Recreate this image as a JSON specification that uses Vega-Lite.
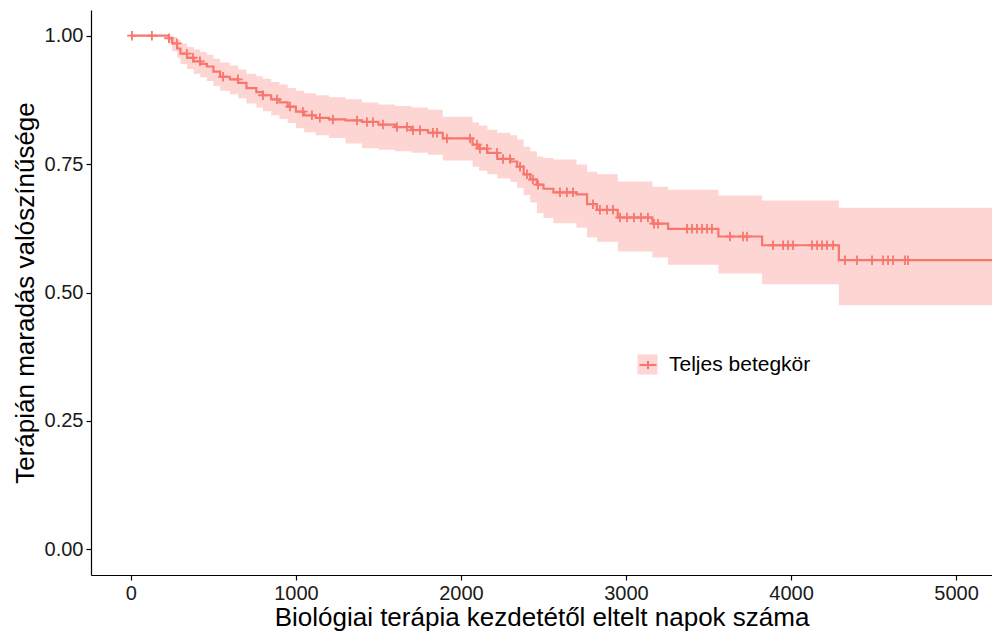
{
  "$schema": "https://vega.github.io/schema/vega-lite/v6.json",
  "width": 901,
  "height": 565,
  "autosize": {"type": "none"},
  "padding": {"left": 91, "top": 10, "right": 0, "bottom": 57},
  "background": "white",
  "config": {
    "view": {"stroke": null},
    "font": "Liberation Sans",
    "axis": {
      "domainColor": "black",
      "domainWidth": 1.2,
      "tickColor": "black",
      "tickWidth": 1.2,
      "tickSize": 5,
      "labelColor": "#1a1a1a",
      "labelFontSize": 20,
      "labelPadding": 3,
      "titleColor": "black",
      "titleFontSize": 26,
      "titleFontWeight": "normal",
      "grid": false
    }
  },
  "datasets": {
    "km": [
      {"t": 0, "s": 1.0, "lo": 1.0, "hi": 1.0, "band": "Teljes betegkör", "strata": "Teljes betegkör"},
      {"t": 230, "s": 0.995, "lo": 0.985, "hi": 1.0, "band": "Teljes betegkör", "strata": "Teljes betegkör"},
      {"t": 250, "s": 0.985, "lo": 0.970, "hi": 0.998, "band": "Teljes betegkör", "strata": "Teljes betegkör"},
      {"t": 280, "s": 0.975, "lo": 0.957, "hi": 0.992, "band": "Teljes betegkör", "strata": "Teljes betegkör"},
      {"t": 300, "s": 0.965, "lo": 0.945, "hi": 0.985, "band": "Teljes betegkör", "strata": "Teljes betegkör"},
      {"t": 340, "s": 0.957, "lo": 0.935, "hi": 0.978, "band": "Teljes betegkör", "strata": "Teljes betegkör"},
      {"t": 380, "s": 0.950, "lo": 0.926, "hi": 0.973, "band": "Teljes betegkör", "strata": "Teljes betegkör"},
      {"t": 420, "s": 0.945, "lo": 0.919, "hi": 0.968, "band": "Teljes betegkör", "strata": "Teljes betegkör"},
      {"t": 460, "s": 0.940, "lo": 0.912, "hi": 0.963, "band": "Teljes betegkör", "strata": "Teljes betegkör"},
      {"t": 500, "s": 0.930, "lo": 0.902, "hi": 0.955, "band": "Teljes betegkör", "strata": "Teljes betegkör"},
      {"t": 540, "s": 0.920, "lo": 0.893, "hi": 0.948, "band": "Teljes betegkör", "strata": "Teljes betegkör"},
      {"t": 600, "s": 0.915, "lo": 0.886, "hi": 0.942, "band": "Teljes betegkör", "strata": "Teljes betegkör"},
      {"t": 650, "s": 0.908, "lo": 0.878, "hi": 0.934, "band": "Teljes betegkör", "strata": "Teljes betegkör"},
      {"t": 700, "s": 0.898, "lo": 0.868, "hi": 0.926, "band": "Teljes betegkör", "strata": "Teljes betegkör"},
      {"t": 760, "s": 0.890, "lo": 0.860, "hi": 0.921, "band": "Teljes betegkör", "strata": "Teljes betegkör"},
      {"t": 800, "s": 0.884, "lo": 0.853, "hi": 0.916, "band": "Teljes betegkör", "strata": "Teljes betegkör"},
      {"t": 850, "s": 0.876, "lo": 0.845, "hi": 0.910, "band": "Teljes betegkör", "strata": "Teljes betegkör"},
      {"t": 900, "s": 0.870, "lo": 0.838, "hi": 0.905, "band": "Teljes betegkör", "strata": "Teljes betegkör"},
      {"t": 950, "s": 0.862, "lo": 0.830, "hi": 0.898, "band": "Teljes betegkör", "strata": "Teljes betegkör"},
      {"t": 1000, "s": 0.852, "lo": 0.820, "hi": 0.893, "band": "Teljes betegkör", "strata": "Teljes betegkör"},
      {"t": 1050, "s": 0.845, "lo": 0.812, "hi": 0.888, "band": "Teljes betegkör", "strata": "Teljes betegkör"},
      {"t": 1120, "s": 0.840, "lo": 0.806, "hi": 0.884, "band": "Teljes betegkör", "strata": "Teljes betegkör"},
      {"t": 1200, "s": 0.837, "lo": 0.801, "hi": 0.880, "band": "Teljes betegkör", "strata": "Teljes betegkör"},
      {"t": 1300, "s": 0.835, "lo": 0.790, "hi": 0.876, "band": "Teljes betegkör", "strata": "Teljes betegkör"},
      {"t": 1400, "s": 0.832, "lo": 0.781, "hi": 0.870, "band": "Teljes betegkör", "strata": "Teljes betegkör"},
      {"t": 1500, "s": 0.827, "lo": 0.778, "hi": 0.866, "band": "Teljes betegkör", "strata": "Teljes betegkör"},
      {"t": 1600, "s": 0.822, "lo": 0.775, "hi": 0.863, "band": "Teljes betegkör", "strata": "Teljes betegkör"},
      {"t": 1700, "s": 0.816, "lo": 0.772, "hi": 0.860, "band": "Teljes betegkör", "strata": "Teljes betegkör"},
      {"t": 1800, "s": 0.811, "lo": 0.768, "hi": 0.856, "band": "Teljes betegkör", "strata": "Teljes betegkör"},
      {"t": 1890, "s": 0.800, "lo": 0.757, "hi": 0.842, "band": "Teljes betegkör", "strata": "Teljes betegkör"},
      {"t": 2070, "s": 0.788, "lo": 0.745, "hi": 0.831, "band": "Teljes betegkör", "strata": "Teljes betegkör"},
      {"t": 2110, "s": 0.780, "lo": 0.737, "hi": 0.825, "band": "Teljes betegkör", "strata": "Teljes betegkör"},
      {"t": 2160, "s": 0.772, "lo": 0.730, "hi": 0.817, "band": "Teljes betegkör", "strata": "Teljes betegkör"},
      {"t": 2220, "s": 0.760, "lo": 0.722, "hi": 0.811, "band": "Teljes betegkör", "strata": "Teljes betegkör"},
      {"t": 2300, "s": 0.755, "lo": 0.715, "hi": 0.806, "band": "Teljes betegkör", "strata": "Teljes betegkör"},
      {"t": 2340, "s": 0.745, "lo": 0.704, "hi": 0.798, "band": "Teljes betegkör", "strata": "Teljes betegkör"},
      {"t": 2380, "s": 0.730, "lo": 0.690, "hi": 0.784, "band": "Teljes betegkör", "strata": "Teljes betegkör"},
      {"t": 2420, "s": 0.720, "lo": 0.675, "hi": 0.775, "band": "Teljes betegkör", "strata": "Teljes betegkör"},
      {"t": 2460, "s": 0.710, "lo": 0.655, "hi": 0.765, "band": "Teljes betegkör", "strata": "Teljes betegkör"},
      {"t": 2500, "s": 0.702, "lo": 0.645, "hi": 0.762, "band": "Teljes betegkör", "strata": "Teljes betegkör"},
      {"t": 2560, "s": 0.695, "lo": 0.635, "hi": 0.759, "band": "Teljes betegkör", "strata": "Teljes betegkör"},
      {"t": 2700, "s": 0.691, "lo": 0.626, "hi": 0.749, "band": "Teljes betegkör", "strata": "Teljes betegkör"},
      {"t": 2764, "s": 0.672, "lo": 0.607, "hi": 0.735, "band": "Teljes betegkör", "strata": "Teljes betegkör"},
      {"t": 2824, "s": 0.661, "lo": 0.599, "hi": 0.730, "band": "Teljes betegkör", "strata": "Teljes betegkör"},
      {"t": 2950, "s": 0.646, "lo": 0.580, "hi": 0.716, "band": "Teljes betegkör", "strata": "Teljes betegkör"},
      {"t": 3160, "s": 0.634, "lo": 0.568, "hi": 0.706, "band": "Teljes betegkör", "strata": "Teljes betegkör"},
      {"t": 3255, "s": 0.624, "lo": 0.554, "hi": 0.700, "band": "Teljes betegkör", "strata": "Teljes betegkör"},
      {"t": 3560, "s": 0.609, "lo": 0.537, "hi": 0.689, "band": "Teljes betegkör", "strata": "Teljes betegkör"},
      {"t": 3825, "s": 0.592, "lo": 0.516, "hi": 0.679, "band": "Teljes betegkör", "strata": "Teljes betegkör"},
      {"t": 4290, "s": 0.563, "lo": 0.475, "hi": 0.665, "band": "Teljes betegkör", "strata": "Teljes betegkör"},
      {"t": 5218, "s": 0.563, "lo": 0.475, "hi": 0.665, "band": "Teljes betegkör", "strata": "Teljes betegkör"}
    ],
    "censor": [
      {"t": 6, "s": 1.0}, {"t": 127, "s": 1.0}, {"t": 230, "s": 0.995}, {"t": 279, "s": 0.985},
      {"t": 339, "s": 0.965}, {"t": 376, "s": 0.957}, {"t": 418, "s": 0.950}, {"t": 558, "s": 0.920},
      {"t": 648, "s": 0.915}, {"t": 800, "s": 0.884}, {"t": 885, "s": 0.876}, {"t": 964, "s": 0.862},
      {"t": 1042, "s": 0.852}, {"t": 1097, "s": 0.845}, {"t": 1145, "s": 0.840}, {"t": 1224, "s": 0.837},
      {"t": 1370, "s": 0.835}, {"t": 1430, "s": 0.832}, {"t": 1467, "s": 0.832}, {"t": 1527, "s": 0.827},
      {"t": 1612, "s": 0.822}, {"t": 1673, "s": 0.822}, {"t": 1709, "s": 0.816}, {"t": 1752, "s": 0.816},
      {"t": 1830, "s": 0.811}, {"t": 1855, "s": 0.811}, {"t": 1915, "s": 0.800}, {"t": 2055, "s": 0.800},
      {"t": 2097, "s": 0.788}, {"t": 2115, "s": 0.780}, {"t": 2158, "s": 0.780}, {"t": 2218, "s": 0.772},
      {"t": 2255, "s": 0.760}, {"t": 2297, "s": 0.760}, {"t": 2358, "s": 0.745}, {"t": 2400, "s": 0.730},
      {"t": 2436, "s": 0.720}, {"t": 2467, "s": 0.710}, {"t": 2600, "s": 0.695}, {"t": 2642, "s": 0.695},
      {"t": 2679, "s": 0.695}, {"t": 2800, "s": 0.672}, {"t": 2842, "s": 0.661}, {"t": 2885, "s": 0.661},
      {"t": 2921, "s": 0.661}, {"t": 2964, "s": 0.646}, {"t": 3006, "s": 0.646}, {"t": 3048, "s": 0.646},
      {"t": 3091, "s": 0.646}, {"t": 3133, "s": 0.646}, {"t": 3170, "s": 0.634}, {"t": 3194, "s": 0.634},
      {"t": 3370, "s": 0.624}, {"t": 3400, "s": 0.624}, {"t": 3430, "s": 0.624}, {"t": 3461, "s": 0.624},
      {"t": 3491, "s": 0.624}, {"t": 3521, "s": 0.624}, {"t": 3630, "s": 0.609}, {"t": 3709, "s": 0.609},
      {"t": 3733, "s": 0.609}, {"t": 3891, "s": 0.592}, {"t": 3952, "s": 0.592}, {"t": 3982, "s": 0.592},
      {"t": 4012, "s": 0.592}, {"t": 4127, "s": 0.592}, {"t": 4158, "s": 0.592}, {"t": 4188, "s": 0.592},
      {"t": 4218, "s": 0.592}, {"t": 4255, "s": 0.592}, {"t": 4327, "s": 0.563}, {"t": 4400, "s": 0.563},
      {"t": 4491, "s": 0.563}, {"t": 4558, "s": 0.563}, {"t": 4588, "s": 0.563}, {"t": 4618, "s": 0.563},
      {"t": 4691, "s": 0.563}, {"t": 4709, "s": 0.563}
    ]
  },
  "layer": [
    {
      "data": {"name": "km"},
      "mark": {"type": "area", "interpolate": "step-after"},
      "encoding": {
        "x": {
          "field": "t", "type": "quantitative",
          "scale": {"domain": [-242, 5218], "nice": false, "zero": false},
          "axis": {"title": "Biológiai terápia kezdetétől eltelt napok száma", "values": [0, 1000, 2000, 3000, 4000, 5000], "format": "d", "titlePadding": 1}
        },
        "y": {
          "field": "lo", "type": "quantitative",
          "scale": {"domain": [-0.05, 1.05], "nice": false, "zero": false},
          "axis": {"title": "Terápián maradás valószínűsége", "values": [0, 0.25, 0.5, 0.75, 1], "format": ".2f", "titlePadding": 6}
        },
        "y2": {"field": "hi"},
        "fill": {
          "field": "band", "type": "nominal",
          "scale": {"range": ["#FDD6D3"]},
          "legend": {
            "title": null, "orient": "none", "legendX": 546, "legendY": 344,
            "symbolType": "square", "symbolSize": 400, "symbolStrokeWidth": 0,
            "labelFontSize": 21, "labelColor": "black", "labelOffset": 11, "zindex": 0
          }
        }
      }
    },
    {
      "data": {"name": "km"},
      "mark": {"type": "line", "interpolate": "step-after", "strokeWidth": 2.2},
      "encoding": {
        "x": {"field": "t", "type": "quantitative"},
        "y": {"field": "s", "type": "quantitative"},
        "stroke": {
          "field": "strata", "type": "nominal",
          "scale": {"range": ["#F8766D"]},
          "legend": {
            "title": null, "orient": "none", "legendX": 546, "legendY": 344,
            "symbolType": "M-0.85,0H0.85M0,-0.4V0.4", "symbolSize": 400, "symbolStrokeWidth": 2,
            "labelFontSize": 21, "labelExpr": "''", "labelOffset": 11, "zindex": 1
          }
        }
      }
    },
    {
      "data": {"name": "censor"},
      "mark": {"type": "point", "shape": "M-1,0H1M0,-1V1", "filled": false, "size": 90, "strokeWidth": 1.8, "color": "#F8766D", "opacity": 1},
      "encoding": {
        "x": {"field": "t", "type": "quantitative"},
        "y": {"field": "s", "type": "quantitative"}
      }
    }
  ]
}
